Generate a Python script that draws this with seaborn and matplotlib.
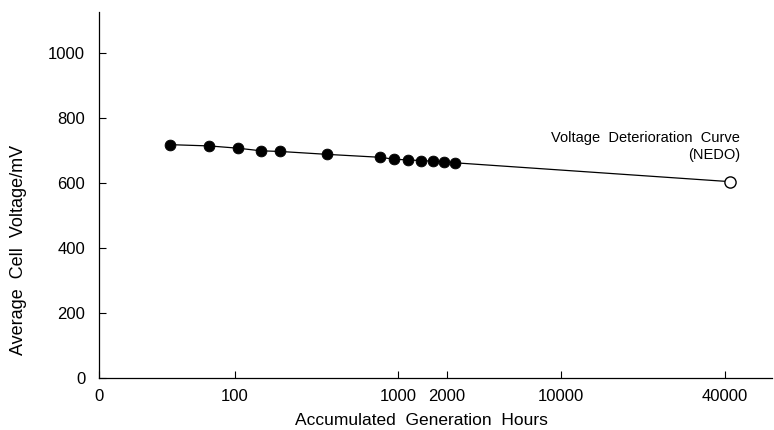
import numpy as np
import pandas as pd
import matplotlib
matplotlib.use("Agg")
import matplotlib.pyplot as plt
import seaborn as sns

# measured points (accumulated generation hours, average cell voltage mV)
hours = [40, 70, 105, 145, 190, 370, 780, 950, 1150, 1380, 1630, 1920, 2250]
voltage = [718, 714, 707, 699, 697, 688, 679, 673, 671, 669, 667, 665, 662]

# NEDO voltage deterioration curve end point
nedo_hours = [42000]
nedo_voltage = [604]

xtick_values = [0, 100, 1000, 2000, 10000, 40000]
xtick_labels = ["0", "100", "1000", "2000", "10000", "40000"]
ytick_values = [0, 200, 400, 600, 800, 1000]


# the original axis is logarithmic up to 10000, then compressed so that 40000
# sits one decade further; the "0" tick is placed below 100
ZERO_AT = 14.8


def fwd(h):
    h = np.asarray(h, dtype=float)
    u = np.log10(np.clip(h, ZERO_AT, None))
    return np.where(u > 4, 4 + (u - 4) / np.log10(4), u)


def inv(u):
    u = np.asarray(u, dtype=float)
    return np.where(u > 4, 10 ** (4 + (u - 4) * np.log10(4)), 10 ** u)


sns.set_theme(style="white")
plt.rcParams["font.family"] = ["Liberation Sans", "DejaVu Sans"]

fig = plt.figure(figsize=(7.74, 4.30), dpi=100)
ax = fig.add_axes([0.128, 0.121, 0.87, 0.851])
ax.set_xscale("function", functions=(fwd, inv))

line_df = pd.DataFrame({"h": hours + nedo_hours, "v": voltage + nedo_voltage})
sns.lineplot(data=line_df, x="h", y="v", ax=ax, color="black", lw=0.9, sort=False)
sns.scatterplot(x=hours, y=voltage, ax=ax, color="black", s=60, edgecolor="black", zorder=3)
sns.scatterplot(x=nedo_hours, y=nedo_voltage, ax=ax, facecolor="white", s=65,
                edgecolor="black", linewidth=1.0, zorder=3)

ax.set_xlim(0, 60000)
ax.set_ylim(0, 1126)
ax.set_xticks(xtick_values)
ax.set_xticklabels(xtick_labels)
ax.set_yticks(ytick_values)
ax.minorticks_off()

for side in ["top", "right"]:
    ax.spines[side].set_visible(False)
for side in ["left", "bottom"]:
    ax.spines[side].set_color("black")
    ax.spines[side].set_linewidth(0.9)

ax.tick_params(axis="both", direction="in", length=5, width=0.8, color="black",
               bottom=True, left=True, labelsize=12, labelcolor="black")
ax.tick_params(axis="x", pad=8)
ax.tick_params(axis="y", pad=10)

ax.set_xlabel("Accumulated  Generation  Hours", fontsize=12.5, color="black", va="center")
ax.set_ylabel("Average  Cell  Voltage/mV", fontsize=13, color="black", va="center")
ax.xaxis.set_label_coords(0.478, -0.117)
ax.yaxis.set_label_coords(-0.12, 0.35)

ax.text(40000 * 1.14, 712, "Voltage  Deterioration  Curve\n(NEDO)", ha="right", va="center",
        fontsize=10.5, color="black", linespacing=1.2)

fig.savefig("out.png", dpi=100, facecolor="white")
